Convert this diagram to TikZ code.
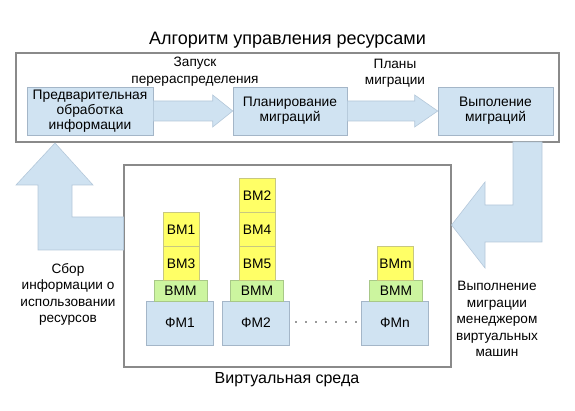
\documentclass[tikz,border=0pt]{standalone}
\usepackage{fontspec}
\setmainfont{Liberation Sans}
\usetikzlibrary{calc}
\definecolor{boxblue}{HTML}{D0E3F2}
\definecolor{boxline}{HTML}{A4B6C8}
\definecolor{arrfill}{HTML}{CFE2F1}
\definecolor{arrline}{HTML}{B4C8DA}
\definecolor{vmyellow}{HTML}{FFFF66}
\definecolor{vmline}{HTML}{C8C880}
\definecolor{vmmgreen}{HTML}{CCF59F}
\definecolor{vmmline}{HTML}{A8C888}
\definecolor{frameline}{HTML}{8A8A8A}
\tikzset{
  frame/.style={draw=frameline, line width=1.1pt, fill=white, inner sep=0pt},
  bluebox/.style={draw=boxline, fill=boxblue, line width=0.6pt, inner sep=0pt, align=center, font=\fontsize{13.8}{15}\selectfont},
  vmbox/.style={draw=vmline, fill=vmyellow, line width=0.6pt, inner sep=0pt, minimum width=36pt, minimum height=34pt, font=\fontsize{13.8}{15}\selectfont},
  vmmbox/.style={draw=vmmline, fill=vmmgreen, line width=0.6pt, inner sep=0pt, minimum width=53pt, minimum height=21pt, font=\fontsize{13.8}{15}\selectfont},
  pmbox/.style={draw=boxline, fill=boxblue, line width=0.6pt, inner sep=0pt, minimum width=67pt, minimum height=44pt, font=\fontsize{13.8}{15}\selectfont},
  fatarrow/.style={draw=arrline, fill=arrfill, line width=0.6pt, line join=miter},
  lbl/.style={align=center, inner sep=0pt, font=\fontsize{13.6}{16.5}\selectfont},
  ttl/.style={inner sep=0pt, font=\fontsize{18}{20}\selectfont},
  envttl/.style={inner sep=0pt, font=\fontsize{16}{18}\selectfont}
}
\begin{document}
\begin{tikzpicture}[x=1pt,y=-1pt]
\useasboundingbox (0,0) rectangle (575,411);
% frames
\node[frame, minimum width=543pt, minimum height=89pt] (top) at (287.5,97.5) {};
\node[frame, minimum width=327pt, minimum height=202pt] (env) at (287.5,266) {};
\node[ttl] (title) at (287.5,40) {Алгоритм управления ресурсами};
\node[envttl] (envtitle) at (287,380) {Виртуальная среда};
% algorithm boxes
\node[bluebox, minimum width=126pt, minimum height=48pt] (b1) at (90,111) {Предварительная\\обработка\\информации};
\node[bluebox, minimum width=114pt, minimum height=48pt] (b2) at (290,111) {Планирование\\миграций};
\node[bluebox, minimum width=115pt, minimum height=48pt] (b3) at (495.5,111) {Выполение\\миграций};
% arrows between boxes
\draw[fatarrow] ($(b1.east)+(0,-10)$) -- ($(b2.west)+(-20,-10)$) -- ($(b2.west)+(-20,-16)$) -- (b2.west)
  -- ($(b2.west)+(-20,16)$) -- ($(b2.west)+(-20,10)$) -- ($(b1.east)+(0,10)$) -- cycle;
\draw[fatarrow] ($(b2.east)+(0,-10)$) -- ($(b3.west)+(-23,-10)$) -- ($(b3.west)+(-23,-16)$) -- (b3.west)
  -- ($(b3.west)+(-23,16)$) -- ($(b3.west)+(-23,10)$) -- ($(b2.east)+(0,10)$) -- cycle;
\node[lbl] (l1) at (195,71.5) {Запуск\\перераспределения};
\node[lbl] (l2) at (395,73) {Планы\\миграции};
% up arrow (collecting info)
\coordinate (uptip) at (55,143);
\draw[fatarrow] (38,250) -- (38,185) -- (16,185) -- (uptip) -- (93,185) -- (72,185) -- (72,217)
  -- (env.west |- 0,217) -- (env.west |- 0,250) -- cycle;
% right arrow (execution)
\coordinate (rtip) at (env.east |- 0,225);
\draw[fatarrow] (513,142) -- (513,205) -- (485,205) -- (485,182) -- (rtip) -- (485,268) -- (485,242)
  -- (542,242) -- (542,142) -- cycle;
\node[lbl] (l3) at (68,294.5) {Сбор\\информации о\\использовании\\ресурсов};
\node[lbl] (l4) at (497,319) {Выполнение\\миграции\\менеджером\\виртуальных\\машин};
% physical machines
\node[pmbox] (fm1) at (180,323) {ФМ1};
\node[pmbox] (fm2) at (256,323) {ФМ2};
\node[pmbox] (fmn) at (395,323) {ФМn};
\node[vmmbox] (vmm1) at (180.5,290.5) {ВММ};
\node[vmmbox] (vmm2) at (257,290.5) {ВММ};
\node[vmmbox] (vmmn) at (396,290.5) {ВММ};
\node[vmbox] (vm3) at (181,263.5) {ВМ3};
\node[vmbox] (vm1) at (181,229.5) {ВМ1};
\node[vmbox] (vm5) at (257,263.5) {ВМ5};
\node[vmbox] (vm4) at (257,229.5) {ВМ4};
\node[vmbox] (vm2) at (257,195.5) {ВМ2};
\node[vmbox] (vmm) at (395.5,263.5) {ВМm};
% dots
\foreach \i in {0,...,6} {
  \fill[black!80] (296+\i*10,322) circle (0.8pt);
}
\end{tikzpicture}
\end{document}
